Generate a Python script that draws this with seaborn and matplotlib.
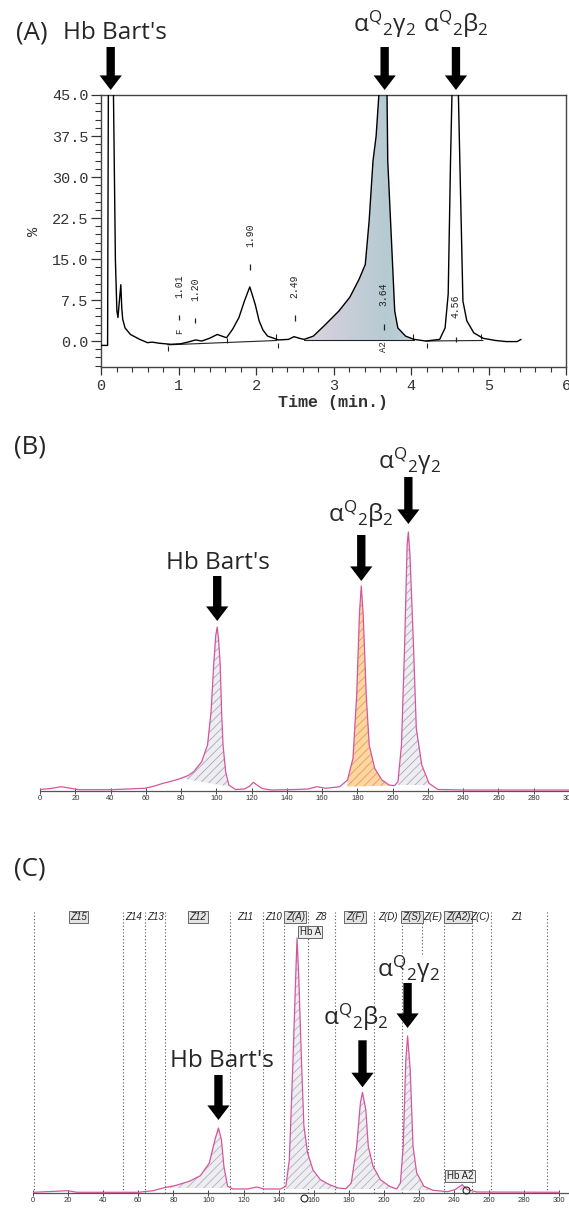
import numpy as np
import matplotlib
matplotlib.use('Agg')
import matplotlib.pyplot as plt
from matplotlib.ticker import MultipleLocator, FixedLocator
from matplotlib.colors import LinearSegmentedColormap
import seaborn as sns

# ---------------- data ----------------
# (A) HPLC trace: time (min) vs %
a_time = [0.00, 0.085, 0.095, 0.160, 0.186, 0.205, 0.219, 0.235, 0.256, 0.268, 0.280, 0.31,
          0.38, 0.50, 0.60, 0.66, 0.75, 0.90, 1.03, 1.12, 1.22, 1.30, 1.40, 1.50, 1.56, 1.62,
          1.70, 1.78, 1.85, 1.92, 1.99, 2.04, 2.09, 2.15, 2.29, 2.42, 2.49, 2.56, 2.62, 2.74,
          2.88, 3.07, 3.21, 3.33, 3.41, 3.46, 3.51, 3.55, 3.59, 3.69, 3.70, 3.76, 3.79, 3.83,
          3.93, 4.04, 4.19, 4.37, 4.44, 4.48, 4.51, 4.53, 4.61, 4.63, 4.67, 4.72, 4.81, 4.93,
          5.09, 5.23, 5.37, 5.42]
a_pct = [-0.8, -0.8, 46, 46, 14.7, 5.5, 4.3, 7.0, 10.3, 6.0, 4.0, 2.4,
         1.2, 0.3, -0.3, -0.2, -0.4, -0.6, -0.5, -0.2, 0.2, 0.0, 0.5, 1.2, 0.9, 0.6,
         2.2, 4.3, 7.3, 9.9, 6.7, 3.7, 2.0, 0.9, 0.2, 0.3, 0.8, 0.5, 0.3, 0.9,
         2.8, 5.5, 8.0, 11.3, 14.0, 22.0, 33.0, 37.5, 46, 46, 33.0, 14.7, 5.5, 2.4,
         0.9, 0.3, 0.0, 0.3, 2.4, 8.6, 33.0, 46, 46, 33.0, 7.3, 3.7, 1.5, 0.5,
         0.1, -0.1, -0.1, 0.3]
a_rt_labels = ['1.01', '1.20', '1.90', '2.49', '3.64', '4.56']
a_rt_x = [1.01, 1.21, 1.92, 2.50, 3.65, 4.58]
a_rt_label_y = [10.1, 9.55, 19.3, 10.1, 8.6, 6.3]
a_rt_dash_y = [4.8, 4.3, 14.0, 4.7, 3.1, 0.75]
a_cut_up_x = [1.62, 2.26, 4.02, 4.90]
a_cut_up_y = [0.6, 1.3, 1.3, 1.2]
a_cut_dn_x = [0.86, 2.28, 4.21]
a_cut_dn_y = [-0.9, -0.3, -0.3]
a_base_x = [[0.86, 2.27], [2.62, 4.04], [4.19, 4.93]]
a_base_y = [[-0.7, 0.1], [0.2, 0.2], [0.0, 0.1]]
a_fill = (2.62, 4.04)
a_arrow_x = [0.125, 3.66, 4.58]

# (B) electrophoresis trace (arbitrary units)
b_x = [0, 6, 12, 18, 22, 40, 59.5, 65, 69.8, 75, 80, 84, 87.2, 91.7, 95, 97, 98.5, 99.7,
       100.5, 101.3, 102.2, 103, 103.8, 105.3, 107.1, 110.8, 116, 119, 121, 123, 126, 131,
       145, 152, 157, 162, 170, 174.4, 177.5, 179.6, 181.2, 182.2, 183.3, 185, 186.7, 189.8,
       193.9, 198, 201, 203, 205, 206.8, 208.2, 208.9, 209.8, 211.8, 213.4, 216.5, 220.6,
       225.7, 240, 270, 300]
b_y = [0.5, 1.5, 3.3, 1.5, 0.3, 0.3, 1.7, 4.0, 6.7, 9.0, 11.7, 14.5, 18.3, 28.3, 45, 78, 125,
       155, 163, 150, 125, 78, 45, 18, 5, 0.5, 1, 4, 7.7, 5, 1.5, 0, 0.5, 1, 3.3, 1.7, 3.3, 10,
       31.7, 95, 178, 204, 175, 95, 45, 21.7, 10, 5, 4.3, 8.3, 45, 145, 245, 258, 235, 145,
       61.7, 25, 6.7, 0.5, 0, 0, 0]
b_regions = [(80, 107.1, 11.7, 3.5, 'grey'), (172, 198, 3.3, 4.3, 'orange'),
             (203, 220.6, 5.0, 5.0, 'grey')]
b_arrow_peaks = [(100.5, 163), (182.2, 204), (208.9, 258)]

# (C) capillary electrophoresis trace (arbitrary units)
c_x = [0, 10, 19.7, 25, 60, 68.4, 75.7, 80.8, 89.1, 95.4, 100.5, 103.7, 105.7, 107.4, 108.8,
       110.9, 114, 122.3, 127.5, 131.6, 141, 144.1, 146.1, 148.2, 149.7, 150.5, 151.5, 153,
       154.4, 156.5, 159.6, 163.8, 169, 174, 178.3, 181.4, 184.5, 186.6, 187.8, 189.7, 191.1,
       193.8, 198, 203.2, 207.3, 209.4, 211, 212.5, 213.5, 215, 216.6, 218.7, 222.8, 228,
       236.3, 240.5, 244.6, 247.7, 252.9, 300]
c_y = [0.7, 1.5, 2.3, 0.7, 0.7, 2.3, 5.7, 7.3, 11.7, 17.3, 30, 53.3, 65, 53.3, 26.7, 6.7, 4,
       4, 6, 4, 4, 6.7, 33, 133, 215, 255, 215, 133, 67, 40, 23, 13.3, 8.3, 5, 4.3, 10, 46.7,
       90, 100.7, 83, 46.7, 26.7, 13.3, 6.7, 4, 10, 46.7, 133, 157, 123, 46.7, 20, 6.7, 2.7,
       1.3, 3.3, 8.3, 3.3, 1, 0.7]
c_regions = [(75.7, 110.9, 5.0), (144.1, 174, 4.0), (178.3, 207.3, 4.0), (209.4, 228, 2.7),
             (240.5, 247.7, 3.0)]
c_zone_edges = [0.8, 51.2, 64.1, 75.5, 112.4, 131, 143, 156.6, 172.3, 194.6, 210.6, 221.6,
                234.3, 250, 260.8, 292.8]
c_zone_names = ['Z15', 'Z14', 'Z13', 'Z12', 'Z11', 'Z10', 'Z(A)', 'Z8', 'Z(F)', 'Z(D)',
                'Z(S)', 'Z(E)', 'Z(A2)', 'Z(C)', 'Z1']
c_zone_x = [26, 57.3, 69.7, 94, 121.2, 137, 149.5, 164.2, 183.5, 202.3, 216, 227.8, 242.2,
            254.7, 276]
c_zone_boxed = [1, 0, 0, 1, 0, 0, 1, 0, 1, 0, 1, 0, 1, 0, 0]
c_peak_names = ['Hb A', 'Hb A2']
c_peak_name_xy = [(158, 261), (243.4, 17)]
c_marks = [(154.4, -5), (246.6, 3)]
c_arrow_peaks = [(105.7, 65), (187.8, 100.7), (213.5, 157)]

lbl_bart = "Hb Bart's"
lbl_g = r'$\mathrm{\alpha}^{\mathrm{Q}}{}_{\mathrm{2}}\mathrm{\gamma}_{\mathrm{2}}$'
lbl_b = r'$\mathrm{\alpha}^{\mathrm{Q}}{}_{\mathrm{2}}\mathrm{\beta}_{\mathrm{2}}$'

# ---------------- style ----------------
sns.set_theme(style='white')
plt.rcParams['font.family'] = ['Open Sans', 'DejaVu Sans']
plt.rcParams['mathtext.fontset'] = 'custom'
plt.rcParams['mathtext.rm'] = 'Open Sans'
plt.rcParams['mathtext.it'] = 'Open Sans:italic'
plt.rcParams['mathtext.bf'] = 'Open Sans:bold'
plt.rcParams['hatch.linewidth'] = 0.6

W, H = 569, 1208
BIG = 17.5
PINK = '#d5559f'
fig = plt.figure(figsize=(W / 100, H / 100), dpi=100)


def box(l, t, r, b):
    return [l / W, 1 - b / H, (r - l) / W, (b - t) / H]


def arrow(ax, x, y, gap, length, label, lab_dy, lab_dx=0, coords='data'):
    ax.annotate('', xy=(x, y), xycoords=coords, xytext=(0, gap + length),
                textcoords='offset pixels', annotation_clip=False,
                arrowprops=dict(arrowstyle='simple,head_length=1.05,head_width=1.6,tail_width=0.6',
                                fc='black', ec='black', lw=0, shrinkA=0, shrinkB=gap * 0.72,
                                mutation_scale=10))
    ax.annotate(label, xy=(x, y), xycoords=coords, xytext=(lab_dx, gap + lab_dy),
                textcoords='offset pixels', ha='center', va='baseline', fontsize=BIG,
                annotation_clip=False)


# ================= (A) =================
axA = fig.add_axes(box(101, 95, 566, 367))
ta = np.asarray(a_time)
pa = np.asarray(a_pct)
m = (ta >= a_fill[0]) & (ta <= a_fill[1])
shade = axA.fill_between(ta[m], pa[m], 0.2, color='none', lw=0)
grad_cmap = LinearSegmentedColormap.from_list('shade', ['#dcdae3', '#d0cfdb', '#c2cdd6',
                                                        '#b6cad2', '#c4d3d9'])
im = axA.imshow(np.linspace(0, 1, 256).reshape(1, -1), extent=[a_fill[0], a_fill[1], -1, 46],
                aspect='auto', cmap=grad_cmap, zorder=1, interpolation='bilinear')
im.set_clip_path(shade.get_paths()[0], transform=axA.transData)
for bx_, by_ in zip(a_base_x, a_base_y):
    axA.plot(bx_, by_, color='#222', lw=0.8, zorder=2)
sns.lineplot(x=a_time, y=a_pct, ax=axA, color='black', lw=1.0, estimator=None, sort=False,
             zorder=3)
axA.vlines(a_cut_up_x, np.array(a_cut_up_y) - 0.9, a_cut_up_y, color='#222', lw=0.8)
axA.vlines(a_cut_dn_x, np.array(a_cut_dn_y) - 1.0, a_cut_dn_y, color='#222', lw=0.8)
axA.vlines(a_rt_x, np.array(a_rt_dash_y) - 1.0, a_rt_dash_y, color='#222', lw=0.9)
for s, x, y in zip(a_rt_labels, a_rt_x, a_rt_label_y):
    axA.text(x, y, s, rotation=90, ha='center', va='center', fontsize=7,
             family='Liberation Mono', color='#222')
axA.text(a_rt_x[0], 1.8, 'F', rotation=90, ha='center', va='center', fontsize=6.5,
         family='Liberation Mono', color='#222')
axA.text(a_rt_x[4], -1.0, 'A2', rotation=90, ha='center', va='center', fontsize=6.5,
         family='Liberation Mono', color='#222')
axA.set_xlim(0, 6)
axA.set_ylim(-4.75, 45)
axA.xaxis.set_major_locator(MultipleLocator(1))
axA.xaxis.set_minor_locator(MultipleLocator(0.2))
axA.yaxis.set_major_locator(FixedLocator([0, 7.5, 15, 22.5, 30, 37.5, 45]))
axA.yaxis.set_minor_locator(MultipleLocator(1.5))
axA.set_yticklabels(['0.0', '7.5', '15.0', '22.5', '30.0', '37.5', '45.0'])
axA.tick_params(which='both', bottom=True, left=True, direction='out', color='#333',
                labelsize=11, labelfontfamily='Liberation Mono', labelcolor='#333')
axA.tick_params(which='major', axis='y', length=7, width=0.9, pad=2)
axA.tick_params(which='minor', axis='y', length=4, width=0.8)
axA.tick_params(which='major', axis='x', length=6, width=0.9, pad=3)
axA.tick_params(which='minor', axis='x', length=3.5, width=0.8)
for sp in axA.spines.values():
    sp.set_color('#444')
    sp.set_linewidth(1.0)
axA.set_xlabel('Time (min.)', family='Liberation Mono', fontweight='bold', fontsize=12,
               color='#333', labelpad=1)
axA.set_ylabel('%', family='Liberation Mono', fontsize=11, color='#333', labelpad=8)
axA.grid(False)
for x in a_arrow_x:
    lab = lbl_bart if x < 1 else (lbl_g if x < 4 else lbl_b)
    dy = 51 if x < 1 else 58
    dx = 4 if x < 1 else 0
    arrow(axA, x, 1.0, 5, 43, lab, dy, dx, coords=('data', 'axes fraction'))
fig.text(32 / W, 1 - 40 / H, '(A)', ha='center', va='baseline', fontsize=18.5)

# ================= (B) =================
axB = fig.add_axes(box(40, 445, 569, 791))
bx = np.asarray(b_x)
by = np.asarray(b_y)
for lo, hi, b0, b1, kind in b_regions:
    m = (bx >= lo) & (bx <= hi)
    base = b0 + (b1 - b0) * (bx[m] - lo) / (hi - lo)
    fc, hc = ('#fcd7a6', '#f09a45') if kind == 'orange' else ('#eeeef2', '#a9a9b5')
    axB.fill_between(bx[m], by[m], base, facecolor=fc, edgecolor=hc, hatch='////',
                     linewidth=0, zorder=1)
sns.lineplot(x=b_x, y=b_y, ax=axB, color=PINK, lw=0.9, estimator=None, sort=False, zorder=3)
axB.set_xlim(0, 300)
axB.set_ylim(-1, 345)
axB.set_yticks([])
axB.xaxis.set_major_locator(MultipleLocator(20))
axB.tick_params(axis='x', bottom=True, direction='inout', length=4, width=0.7, color='#444',
                labelsize=5.5, labelfontfamily='Liberation Sans', labelcolor='#333', pad=1)
sns.despine(ax=axB, left=True)
axB.spines['bottom'].set_color('#555')
axB.spines['bottom'].set_linewidth(0.9)
axB.set_xlabel('')
axB.set_ylabel('')
b_gap = [6, 5, 8]
b_len = [45, 46, 47]
b_lab = [52, 59, 55]
b_dx = [1, 0, 1]
for i, ((x, y), lab) in enumerate(zip(b_arrow_peaks, [lbl_bart, lbl_b, lbl_g])):
    arrow(axB, x, y, b_gap[i], b_len[i], lab, b_lab[i], b_dx[i])
fig.text(30 / W, 1 - 454 / H, '(B)', ha='center', va='baseline', fontsize=18.5)

# ================= (C) =================
axC = fig.add_axes(box(33, 912, 569, 1193))
cx = np.asarray(c_x)
cy = np.asarray(c_y)
for lo, hi, base in c_regions:
    m = (cx >= lo) & (cx <= hi)
    axC.fill_between(cx[m], cy[m], base, facecolor='#eeeef2', edgecolor='#b0b0bc',
                     hatch='////', linewidth=0, zorder=1)
for e in c_zone_edges:
    lo = 0.85 if e == 221.6 else 0
    axC.axvline(e, ymin=lo, ymax=1, color='#555', lw=0.8, ls=(0, (1, 2)), zorder=0)
sns.lineplot(x=c_x, y=c_y, ax=axC, color=PINK, lw=0.9, estimator=None, sort=False, zorder=3)
for name, x, bxd in zip(c_zone_names, c_zone_x, c_zone_boxed):
    kw = dict(boxstyle='square,pad=0.15', fc='#e4e4e4', ec='#666', lw=0.7) if bxd else None
    axC.text(x, 276, name, ha='center', va='center', fontsize=7, style='italic',
             family='Liberation Sans', color='#222', bbox=kw)
for name, (x, y) in zip(c_peak_names, c_peak_name_xy):
    axC.text(x, y, name, ha='center', va='center', fontsize=7, family='Liberation Sans',
             color='#222', bbox=dict(boxstyle='square,pad=0.15', fc='#ededed', ec='#666',
                                     lw=0.7))
axC.plot([p[0] for p in c_marks], [p[1] for p in c_marks], ls='none', marker='o', ms=5,
         mfc='none', mec='#222', mew=0.8, clip_on=False, zorder=4)
axC.set_xlim(0, 305.5)
axC.set_ylim(0, 281)
axC.set_yticks([])
axC.set_xticks(np.arange(0, 301, 20))
axC.tick_params(axis='x', bottom=True, direction='inout', length=4, width=0.7, color='#444',
                labelsize=5.5, labelfontfamily='Liberation Sans', labelcolor='#333', pad=1)
sns.despine(ax=axC, left=True)
axC.spines['bottom'].set_color('#555')
axC.spines['bottom'].set_linewidth(0.9)
axC.set_xlabel('')
axC.set_ylabel('')
c_gap = [8, 5, 8]
c_len = [45, 47, 45]
c_lab = [53, 62, 51]
c_dx = [3, -7, 1]
for i, ((x, y), lab) in enumerate(zip(c_arrow_peaks, [lbl_bart, lbl_b, lbl_g])):
    arrow(axC, x, y, c_gap[i], c_len[i], lab, c_lab[i], c_dx[i])
fig.text(30 / W, 1 - 875 / H, '(C)', ha='center', va='baseline', fontsize=18.5)

fig.savefig('out.png', dpi=100)
